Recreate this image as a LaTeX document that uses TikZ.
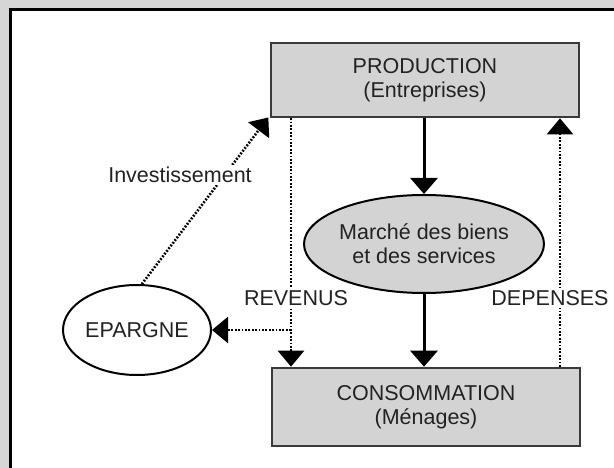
\documentclass[tikz,border=0pt]{standalone}
\usepackage{fontspec}
\setmainfont{Liberation Sans}
\usetikzlibrary{shapes.geometric,arrows.meta}
\definecolor{boxgray}{HTML}{D3D3D3}
\definecolor{bggray}{HTML}{D6D6D6}
\definecolor{edgegray}{HTML}{3A3A3A}
\definecolor{txt}{HTML}{222222}
\tikzset{
  boxnode/.style={draw=edgegray, line width=2.6pt, fill=boxgray, rectangle,
    minimum width=308pt, inner sep=0pt, align=center, text=txt,
    font=\fontsize{21.5}{24}\selectfont},
  ovalnode/.style={draw=black, line width=2pt, ellipse, inner sep=0pt,
    align=center, text=txt, font=\fontsize{21.5}{24}\selectfont},
  labelnode/.style={fill=white, inner sep=2pt, text=txt,
    font=\fontsize{21.5}{24}\selectfont},
  solidarrow/.style={line width=3pt, black,
    -{Triangle[width=27pt,length=16pt]}},
  dotarrow/.style={line width=2.6pt, black, dash pattern=on 1.8pt off 1.6pt,
    -{Triangle[width=26pt,length=16pt]}}
}
\begin{document}
\begin{tikzpicture}[x=1pt,y=-1pt]
\useasboundingbox (0,0) rectangle (614,468);
\clip (0,0) rectangle (614,468);
% frame
\fill[bggray] (0,0) rectangle (614,468);
\filldraw[fill=white, draw=black, line width=3pt] (10.5,9.5) rectangle (650,520);

% nodes
\node[boxnode, minimum height=74pt] (prod) at (425,80) {PRODUCTION\\(Entreprises)};
\node[boxnode, minimum height=78pt] (cons) at (426,407) {CONSOMMATION\\(Ménages)};
\node[ovalnode, fill=boxgray, minimum width=214pt, minimum height=98pt] (marche) at (424,244) {Marché des biens\\et des services};
\node[ovalnode, fill=white, minimum width=148pt, minimum height=90pt] (epargne) at (137,330) {EPARGNE};

\coordinate (rx) at (291,0);
\coordinate (dx) at (560,0);
\coordinate (j) at (291,330);

% connectors
\draw[solidarrow] (marche.north |- prod.south) -- (marche.north);
\draw[solidarrow] (marche.south) -- (marche.south |- cons.north);
\draw[dotarrow] (rx |- prod.south) -- (rx |- cons.north);
\draw[dotarrow] (j) -- (epargne.east |- j);
\draw[dotarrow] (dx |- cons.north) -- (dx |- prod.south);
\draw[dotarrow, shorten >=-1pt] (epargne.84) -- ([xshift=-2pt]prod.south west);

% labels
\node[labelnode] (inv) at (180,175) {Investissement};
\node[labelnode] (rev) at (296,298) {REVENUS};
\node[labelnode] (dep) at (550,298) {DEPENSES};
\end{tikzpicture}
\end{document}
